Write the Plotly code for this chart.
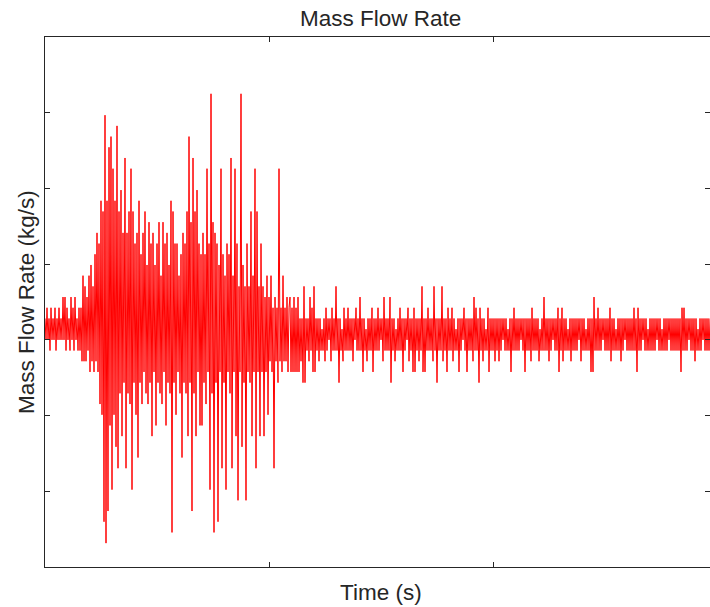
import numpy as np
import plotly.graph_objects as go

# Flow meter readings in raw counts, one per sample, split by test phase
flow_startup_counts = [
    2, 0, 3, 0, 2, -1, 3, 0, 2, 0,
    3, -1, 2, 0, 3, 0, 2, 0, 4, 0,
    4, -1, 3, 0, 2, -1, 4, 0, 3, -1,
    4, 0, 2, -1, 3, -1, 3, -2, 6, -2,
]

flow_burst_counts = [
    5, -2, 4, -1, 6, -3, 7, -2, 5, -3,
    8, -2, 10, -3, 9, -6, 13, -7, 12, -17,
    21, -19, 13, -16, 18, -8, 19, -14, 16, -7,
    13, -10, 20, -12, 12, -5, 14, -9, 10, -4,
    17, -12, 10, -5, 12, -6, 16, -14, 12, -4,
    9, -7, 10, -11, 13, -4, 8, -6, 10, -3,
    12, -5, 7, -6, 11, -4, 9, -9, 10, -3,
    7, -8, 9, -4, 11, -5, 6, -6, 11, -3,
    9, -8, 10, -4, 7, -5, 13, -18, 12, -4,
    9, -7, 9, -3, 6, -5, 8, -11, 10, -4,
    9, -5, 12, -9, 19, -4, 11, -16, 17, -5,
    12, -9, 14, -3, 9, -8, 8, -8, 10, -4,
    8, -6, 16, -3, 9, -14, 23, -5, 11, -18,
    10, -4, 9, -17, 7, -3, 16, -12, 8, -4,
    6, -14, 9, -3, 8, -5, 17, -12, 6, -3,
    16, -9, 9, -15, 5, -3, 23, -10, 7, -4,
    5, -15, 9, -3, 5, -4, 12, -9, 6, -3,
    16, -12, 12, -3, 5, -9, 9, -3, 5, -9,
    4, -3, 6, -7, 4, -2, 6, -3, 3, -12,
    4, -2, 3, -4, 16, -2, 3, -3, 6, -2,
    3, -2, 4, -3, 3,
]

flow_settled_counts = [
    4, -3, 3, -3, 4, -3, 3, -3, 4, -3, 2, -2, 2, -4, 5, -4, 2, -1, 2, -2,
    4, -1, 3, -3, 5, -3, 2, -1, 2, -2, 2, -1, 1, -1, 2, -2, 3, -1, 2, 0,
    2, -2, 3, -1, 2, -1, 5, -1, 2, -4, 2, -1, 1, -2, 3, -1, 2, -1, 3, -1,
    2, -1, 2, -2, 2, 0, 3, -1, 2, -1, 4, -1, 2, -3, 2, -1, 1, -2, 2, -1,
    2, -1, 3, -3, 2, -1, 2, -1, 3, -1, 2, 0, 2, -2, 4, -1, 2, -1, 2, -1,
    4, -4, 2, -1, 2, -2, 1, -1, 2, -1, 3, -1, 2, -3, 2, -1, 2, 0, 3, -2,
    2, -1, 2, -3, 3, -3, 2, -1, 2, -2, 2, -1, 5, -3, 2, -3, 2, -1, 3, -1,
    2, -1, 2, -2, 5, -1, 2, -4, 2, -1, 2, -1, 5, -2, 2, -1, 2, -3, 3, -1,
    2, -1, 3, -2, 2, -1, 1, -1, 2, -3, 2, -1, 2, 0, 3, -1, 2, -3, 2, -1,
    2, -1, 2, -2, 4, -1, 3, -1, 2, -4, 3, -1, 2, -2, 2, -1, 1, -1, 3, -3,
    2, -1, 2, -1, 2, -2, 2, -1, 2, -2, 2, -1, 2, 0, 2, -1, 2, -1, 1, -1,
    2, -3, 2, -1, 3, -1, 2, -1, 2, -1, 2, 0, 2, -1, 2, -3, 2, -1, 2, -1,
    2, -2, 3, -1, 2, -1, 2, -1, 2, -2, 1, -1, 2, -1, 4, -1, 2, -1, 2, -2,
    2, -1, 2, 0, 2, -1, 2, -1, 3, -3, 2, -1, 3, -2, 2, -1, 2, -1, 1, -1,
    2, -2, 2, -1, 2, -1, 2, -1, 2, 0, 2, -2, 2, -1, 2, -1, 1, -1, 2, -1,
    2, -3, 2, -3, 4, -1, 2, -1, 3, -1, 2, -1, 2, 0, 2, -1, 2, -1, 2, -1,
    3, -2, 2, -1, 2, -1, 1, -1, 2, -1, 2, -2, 2, -1, 2, 0, 2, -1, 2, -1,
    2, -1, 2, -1, 3, -1, 2, -3, 3, -1, 2, -1, 2, 0, 2, -1, 2, -1, 1, -1,
    2, -1, 2, -1, 2, -1, 2, 0, 2, -1, 2, -1, 1, -1, 2, -1, 2, -1, 2, 0,
    2, -1, 2, -1, 2, -1, 2, -1, 2, -1, 2, -3, 3, -1, 3, -1, 2, -1, 2, 0,
    2, -1, 2, -1, 2, -2, 2, -1, 1, -1, 2, -1, 2, 0, 2, -1, 2, -1, 2, -1, 2,
]

# Meter resolution and logging rate
kg_s_per_count = 0.1413
sample_rate_hz = 224.0

x_ticks = [1, 2]
y_ticks = [-2, -1, 0, 1, 2, 3]
y_range = [-3, 4]

counts = np.array(flow_startup_counts + flow_burst_counts + flow_settled_counts, dtype=float)
flow = counts * kg_s_per_count
time_s = np.arange(len(counts)) / sample_rate_hz

FONT = "Liberation Sans, Arial, Helvetica, sans-serif"
INK = "#262626"
LABEL_SIZE = 22.5

fig = go.Figure()
fig.add_trace(go.Scatter(
    x=time_s, y=flow, mode="lines",
    line=dict(color="#ff0000", width=1),
    showlegend=False, hoverinfo="skip",
))
# Empty trace so the right-hand tick axis is laid out
fig.add_trace(go.Scatter(x=[], y=[], yaxis="y2", showlegend=False))

fig.update_layout(
    width=710, height=607,
    margin=dict(l=45, r=0, t=37, b=40),
    paper_bgcolor="white", plot_bgcolor="white",
    font=dict(family=FONT, color=INK),
    xaxis=dict(
        range=[0, time_s[-1]], tickvals=x_ticks, showticklabels=False,
        ticks="inside", ticklen=5, tickcolor=INK, tickwidth=1,
        showline=True, linecolor=INK, linewidth=1, mirror="ticks",
        showgrid=False, zeroline=False,
    ),
    yaxis=dict(
        range=y_range, tickvals=y_ticks, showticklabels=False,
        ticks="inside", ticklen=5, tickcolor=INK, tickwidth=1,
        showline=True, linecolor=INK, linewidth=1, mirror=False,
        showgrid=False, zeroline=False,
    ),
    yaxis2=dict(
        range=y_range, tickvals=y_ticks, showticklabels=False,
        overlaying="y", side="right",
        ticks="inside", ticklen=5, tickcolor=INK, tickwidth=1,
        showline=False, showgrid=False, zeroline=False,
    ),
    annotations=[
        dict(text="Mass Flow Rate", xref="paper", yref="paper",
             x=0.504, y=1.034, xanchor="center", yanchor="middle",
             showarrow=False, font=dict(size=LABEL_SIZE, family=FONT, color=INK)),
        dict(text="Time (s)", xref="paper", yref="paper",
             x=0.505, y=-0.049, xanchor="center", yanchor="middle",
             showarrow=False, font=dict(size=LABEL_SIZE, family=FONT, color=INK)),
        dict(text="Mass Flow Rate (kg/s)", xref="paper", yref="paper",
             x=-0.0286, y=0.5, xanchor="center", yanchor="middle",
             textangle=-90, showarrow=False,
             font=dict(size=LABEL_SIZE, family=FONT, color=INK)),
    ],
)

fig.write_html("out.html")
